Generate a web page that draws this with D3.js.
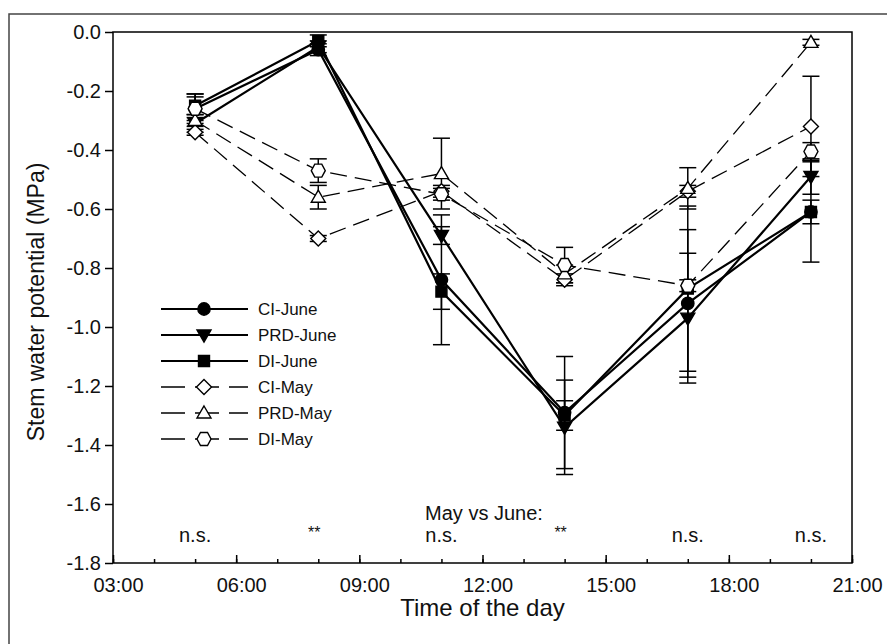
<!DOCTYPE html>
<html>
<head>
<meta charset="utf-8">
<script src="https://cdn.jsdelivr.net/npm/d3@7"></script>
<style>
  body { margin: 0; background: #fff; }
  svg text { font-family: "Liberation Sans", Arial, sans-serif; fill: #111; }
</style>
</head>
<body>
<svg id="chart" width="887" height="644"></svg>
<script>
// sampling hours and labels
var hours = [5, 8, 11, 14, 17, 20];
var sigLabels = ["n.s.", "**", "n.s.", "**", "n.s.", "n.s."];
var xTickHours = [3, 6, 9, 12, 15, 18, 21];
var xTickLabels = ["03:00", "06:00", "09:00", "12:00", "15:00", "18:00", "21:00"];
var yTicks = [0, -0.2, -0.4, -0.6, -0.8, -1.0, -1.2, -1.4, -1.6, -1.8];

// series (mean, error)
var ciJune = [-0.26, -0.06, -0.84, -1.29, -0.92, -0.61];
var ciJuneErr = [0.05, 0.02, 0.22, 0.19, 0.25, 0.17];
var prdJune = [-0.31, -0.05, -0.69, -1.34, -0.97, -0.49];
var prdJuneErr = [0.03, 0.02, 0.03, 0.16, 0.22, 0.06];
var diJune = [-0.25, -0.03, -0.88, -1.30, -0.87, -0.61];
var diJuneErr = [0.04, 0.02, 0.06, 0.05, 0.28, 0.04];
var ciMay = [-0.34, -0.70, -0.54, -0.84, -0.54, -0.32];
var ciMayErr = [0.01, 0.01, 0.02, 0.02, 0.02, 0.17];
var prdMay = [-0.30, -0.56, -0.48, -0.82, -0.53, -0.035];
var prdMayErr = [0.02, 0.04, 0.12, 0.03, 0.07, 0.01];
var diMay = [-0.26, -0.47, -0.55, -0.79, -0.86, -0.405];
var diMayErr = [0.04, 0.04, 0.02, 0.06, 0.02, 0.03];

var series = [
  {name: "CI-June", vals: ciJune, err: ciJuneErr, shape: "circle", fill: "#000", dashed: false},
  {name: "PRD-June", vals: prdJune, err: prdJuneErr, shape: "triDown", fill: "#000", dashed: false},
  {name: "DI-June", vals: diJune, err: diJuneErr, shape: "square", fill: "#000", dashed: false},
  {name: "CI-May", vals: ciMay, err: ciMayErr, shape: "diamond", fill: "#fff", dashed: true},
  {name: "PRD-May", vals: prdMay, err: prdMayErr, shape: "triUp", fill: "#fff", dashed: true},
  {name: "DI-May", vals: diMay, err: diMayErr, shape: "hexagon", fill: "#fff", dashed: true}
];

var svg = d3.select("#chart");
var plot = {left: 113, top: 32, right: 852, bottom: 563};

var x = d3.scaleLinear().domain([3, 21]).range([plot.left, plot.right]);
var y = d3.scaleLinear().domain([-1.8, 0]).range([plot.bottom, plot.top]);

// outer figure frame
svg.append("path").attr("d", "M9,644 L9,14 L887,14")
  .attr("fill", "none").attr("stroke", "#444").attr("stroke-width", 1.5);

// plot box
svg.append("rect")
  .attr("x", plot.left).attr("y", plot.top)
  .attr("width", plot.right - plot.left).attr("height", plot.bottom - plot.top)
  .attr("fill", "none").attr("stroke", "#000").attr("stroke-width", 1.5);

// y axis (ticks outward), plain hyphen minus like the original
var yAxis = svg.append("g").attr("transform", "translate(" + plot.left + ",0)")
  .call(d3.axisLeft(y).tickValues(yTicks).tickSize(8).tickPadding(4)
    .tickFormat(function(d) { return d.toFixed(1).replace("−", "-"); }));
yAxis.select(".domain").remove();
yAxis.selectAll("line").attr("stroke", "#000").attr("stroke-width", 1.5);
yAxis.selectAll("text").attr("font-size", 20).attr("font-family", "Liberation Sans, Arial, sans-serif");

// x axis: minor hourly ticks inward, major every 3 h
var minorHours = d3.range(3, 22);
var xAxisMinor = svg.append("g").attr("transform", "translate(0," + plot.bottom + ")")
  .call(d3.axisTop(x).tickValues(minorHours).tickSize(4).tickFormat(""));
xAxisMinor.select(".domain").remove();
xAxisMinor.selectAll("line").attr("stroke", "#000").attr("stroke-width", 1.5);

var xAxis = svg.append("g").attr("transform", "translate(0," + plot.bottom + ")")
  .call(d3.axisTop(x).tickValues(xTickHours).tickSize(8)
    .tickFormat(function(d, i) { return xTickLabels[i]; }));
xAxis.select(".domain").remove();
xAxis.selectAll("line").attr("stroke", "#000").attr("stroke-width", 1.5);
xAxis.selectAll("text").attr("y", 29).attr("dy", 0).attr("x", 5)
  .attr("font-size", 20).attr("font-family", "Liberation Sans, Arial, sans-serif");

// axis titles
svg.append("text").attr("x", (plot.left + plot.right) / 2).attr("y", 616)
  .attr("text-anchor", "middle").attr("font-size", 24).text("Time of the day");
svg.append("text")
  .attr("transform", "translate(44,302) rotate(-90)")
  .attr("text-anchor", "middle").attr("font-size", 23).text("Stem water potential (MPa)");

// significance annotations
svg.append("text").attr("x", 484).attr("y", 520)
  .attr("text-anchor", "middle").attr("font-size", 20).text("May vs June:");
svg.selectAll(".sig").data(hours).enter().append("text")
  .attr("x", function(d, i) { return x(d) + (sigLabels[i] === "**" ? -4 : 0); })
  .attr("y", function(d, i) { return sigLabels[i] === "**" ? 538 : 542; })
  .attr("text-anchor", "middle").attr("font-size", function(d, i) { return sigLabels[i] === "**" ? 16 : 20; })
  .text(function(d, i) { return sigLabels[i]; });

// marker shapes
function shapePath(shape) {
  switch (shape) {
    case "circle": return d3.symbol(d3.symbolCircle, 120)();
    case "square": return "M-5.5,-5.5 L5.5,-5.5 L5.5,5.5 L-5.5,5.5 Z";
    case "triDown": return "M-7,-5 L7,-5 L0,7 Z";
    case "triUp": return "M0,-7 L7,5 L-7,5 Z";
    case "diamond": return "M0,-7.5 L7.5,0 L0,7.5 L-7.5,0 Z";
    case "hexagon": return "M-3.5,-6.5 L3.5,-6.5 L7,0 L3.5,6.5 L-3.5,6.5 L-7,0 Z";
  }
}

var line = d3.line().x(function(d) { return x(d[0]); }).y(function(d) { return y(d[1]); });

// error bars
series.forEach(function(s) {
  var g = svg.append("g");
  hours.forEach(function(h, i) {
    var cx = x(h), y1 = y(s.vals[i] + s.err[i]), y2 = y(s.vals[i] - s.err[i]);
    g.append("line").attr("x1", cx).attr("x2", cx).attr("y1", y1).attr("y2", y2)
      .attr("stroke", "#000").attr("stroke-width", 1.5);
    [y1, y2].forEach(function(yy) {
      g.append("line").attr("x1", cx - 8.5).attr("x2", cx + 8.5).attr("y1", yy).attr("y2", yy)
        .attr("stroke", "#000").attr("stroke-width", 1.5);
    });
  });
});

// lines
series.forEach(function(s) {
  svg.append("path")
    .attr("d", line(hours.map(function(h, i) { return [h, s.vals[i]]; })))
    .attr("fill", "none").attr("stroke", "#000")
    .attr("stroke-width", s.dashed ? 1.3 : 2.2)
    .attr("stroke-dasharray", s.dashed ? "17,8" : null);
});

// markers
series.forEach(function(s) {
  svg.selectAll(null).data(hours).enter().append("path")
    .attr("d", shapePath(s.shape))
    .attr("transform", function(h, i) { return "translate(" + x(h) + "," + y(s.vals[i]) + ")"; })
    .attr("fill", s.fill).attr("stroke", "#000").attr("stroke-width", 1.4);
});

// legend
var legend = svg.append("g");
series.forEach(function(s, i) {
  var ly = 309 + i * 26;
  legend.append("line").attr("x1", 161).attr("x2", 248).attr("y1", ly).attr("y2", ly)
    .attr("stroke", "#000").attr("stroke-width", s.dashed ? 1.3 : 2.2)
    .attr("stroke-dasharray", s.dashed ? "24,10" : null);
  legend.append("path").attr("d", shapePath(s.shape))
    .attr("transform", "translate(204," + ly + ")")
    .attr("fill", s.fill).attr("stroke", "#000").attr("stroke-width", 1.4);
  legend.append("text").attr("x", 258).attr("y", ly + 6)
    .attr("font-size", 17).text(s.name);
});
</script>
</body>
</html>
